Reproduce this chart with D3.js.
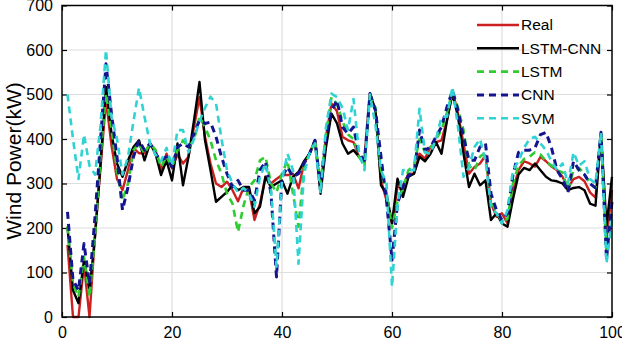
<!DOCTYPE html>
<html>
<head>
<meta charset="utf-8">
<script src="https://d3js.org/d3.v7.min.js"></script>
<style>
  body { margin: 0; background: #fff; }
  svg text { font-family: "Liberation Sans", Arial, sans-serif; fill: #000; }
</style>
</head>
<body>
<script>
// sample index 1..100
const samples = d3.range(1, 101);

const real = [162,0,0,118,0,185,335,488,385,310,285,330,380,368,368,390,
  375,330,367,334,365,345,360,427,494,405,345,300,292,304,285,260,290,
  285,218,255,315,300,310,319,319,322,289,345,367,397,290,405,480,462,
  405,397,393,360,352,502,464,307,262,210,292,296,322,322,367,356,
  382,393,397,442,509,457,390,322,337,345,363,255,225,233,210,285,
  330,350,345,338,360,350,338,330,315,290,310,315,305,280,268,410,175,285];

const lstmCnn = [203,60,31,128,60,180,345,517,412,345,315,352,382,397,352,390,
  367,319,352,307,390,296,360,442,528,397,330,259,270,281,296,285,292,
  292,233,248,315,292,300,307,277,315,326,350,367,397,277,382,457,435,
  390,367,375,360,348,502,464,296,277,210,311,270,315,322,360,350,
  367,393,367,442,502,450,367,292,322,296,307,218,233,210,203,265,
  320,335,330,345,330,315,307,305,300,285,290,292,285,255,250,412,205,315];

const lstm = [203,75,45,135,45,180,360,502,420,330,262,300,375,390,367,390,
  375,337,360,337,375,397,382,397,450,427,397,352,322,277,255,191,250,
  292,307,352,360,300,280,322,352,277,203,337,367,397,300,412,494,479,
  440,410,400,360,340,500,470,330,280,200,260,290,330,340,400,370,
  380,400,420,460,505,470,420,340,330,360,370,260,235,215,220,300,
  340,355,360,370,365,350,340,330,325,285,330,335,320,300,290,410,150,240];

const cnn = [236,83,60,165,75,225,397,569,457,360,240,292,360,397,375,390,
  367,352,360,337,382,390,382,412,442,435,438,405,360,322,292,307,285,
  285,262,330,349,277,90,315,337,315,322,345,367,397,292,405,464,487,
  427,412,427,367,352,502,464,360,262,128,255,292,319,322,420,375,
  382,405,427,472,509,464,405,352,352,382,390,277,240,218,233,320,
  370,375,375,380,410,415,380,330,310,280,350,330,320,300,290,415,130,260];

const svm = [500,400,310,410,340,320,430,600,450,400,320,360,440,515,450,390,
  365,350,380,340,420,420,370,400,440,470,495,480,400,330,300,280,290,
  277,248,315,345,285,113,307,367,330,120,322,367,390,277,427,502,494,
  470,420,490,370,330,500,430,330,300,68,250,330,330,330,468,370,
  367,400,450,450,517,427,315,337,382,400,352,248,233,210,240,330,
  350,380,400,405,390,375,350,330,345,300,370,340,350,310,300,415,120,220];

const seriesNames = ["Real", "LSTM-CNN", "LSTM", "CNN", "SVM"];
const xTicks = [0, 20, 40, 60, 80, 100];
const yTicks = [0, 100, 200, 300, 400, 500, 600, 700];

const w = 622, h = 348;
const pLeft = 62, pRight = 612, pTop = 5.5, pBottom = 317;

const x = d3.scaleLinear().domain([0, 100]).range([pLeft, pRight]);
const y = d3.scaleLinear().domain([0, 700]).range([pBottom, pTop]);

const svg = d3.select("body").append("svg")
  .attr("width", w)
  .attr("height", h);

// grid
svg.append("g").selectAll("line")
  .data(xTicks.slice(1, -1))
  .join("line")
  .attr("x1", d => x(d)).attr("x2", d => x(d))
  .attr("y1", pTop).attr("y2", pBottom)
  .attr("stroke", "#dedede").attr("stroke-width", 1.2);
svg.append("g").selectAll("line")
  .data(yTicks.slice(1, -1))
  .join("line")
  .attr("x1", pLeft).attr("x2", pRight)
  .attr("y1", d => y(d)).attr("y2", d => y(d))
  .attr("stroke", "#dedede").attr("stroke-width", 1.2);

// axes, ticks pointing inward like matlab
const axB = svg.append("g").attr("transform", "translate(0," + pBottom + ")")
  .call(d3.axisBottom(x).tickValues(xTicks).tickSize(-5).tickPadding(10));
const axL = svg.append("g").attr("transform", "translate(" + pLeft + ",0)")
  .call(d3.axisLeft(y).tickValues(yTicks).tickSize(-5).tickPadding(9));
const axT = svg.append("g").attr("transform", "translate(0," + pTop + ")")
  .call(d3.axisTop(x).tickValues(xTicks).tickSize(-5).tickFormat(""));
const axR = svg.append("g").attr("transform", "translate(" + pRight + ",0)")
  .call(d3.axisRight(y).tickValues(yTicks).tickSize(-5).tickFormat(""));
[axB, axL, axT, axR].forEach(g => {
  g.select(".domain").remove();
  g.selectAll(".tick line").attr("stroke", "#000").attr("stroke-width", 1.2);
  g.selectAll("text").style("font-size", "16px");
});

const series = [
  {name: seriesNames[0], data: real,    color: "#cc1f1f", dash: null,  width: 2.4},
  {name: seriesNames[1], data: lstmCnn, color: "#000000", dash: null,  width: 2.4},
  {name: seriesNames[2], data: lstm,    color: "#2ecc2e", dash: "7,5", width: 2.6},
  {name: seriesNames[3], data: cnn,     color: "#14148f", dash: "7,5", width: 3},
  {name: seriesNames[4], data: svm,     color: "#2fd3d3", dash: "7,5", width: 2.6}
];

const line = d3.line()
  .x((d, i) => x(samples[i]))
  .y(d => y(d));

svg.append("g").selectAll("path")
  .data(series)
  .join("path")
  .attr("d", s => line(s.data))
  .attr("fill", "none")
  .attr("stroke", s => s.color)
  .attr("stroke-width", s => s.width)
  .attr("stroke-dasharray", s => s.dash)
  .attr("stroke-linejoin", "round");

// frame
svg.append("rect")
  .attr("x", pLeft).attr("y", pTop)
  .attr("width", pRight - pLeft).attr("height", pBottom - pTop)
  .attr("fill", "none").attr("stroke", "#000").attr("stroke-width", 1.5);

// y label
svg.append("text")
  .attr("transform", "translate(21," + 161 + ") rotate(-90)")
  .attr("text-anchor", "middle")
  .style("font-size", "21px")
  .text("Wind Power(kW)");

// legend
const lg = svg.append("g");
const rows = lg.selectAll("g")
  .data(series)
  .join("g")
  .attr("transform", (s, i) => "translate(477," + (25 + i * 23.3) + ")");
rows.append("line")
  .attr("x1", 0).attr("x2", 42)
  .attr("stroke", s => s.color)
  .attr("stroke-width", s => s.width)
  .attr("stroke-dasharray", s => s.dash);
rows.append("text")
  .attr("x", 44).attr("dy", "0.35em")
  .style("font-size", "15.5px")
  .text(s => s.name);
</script>
</body>
</html>
